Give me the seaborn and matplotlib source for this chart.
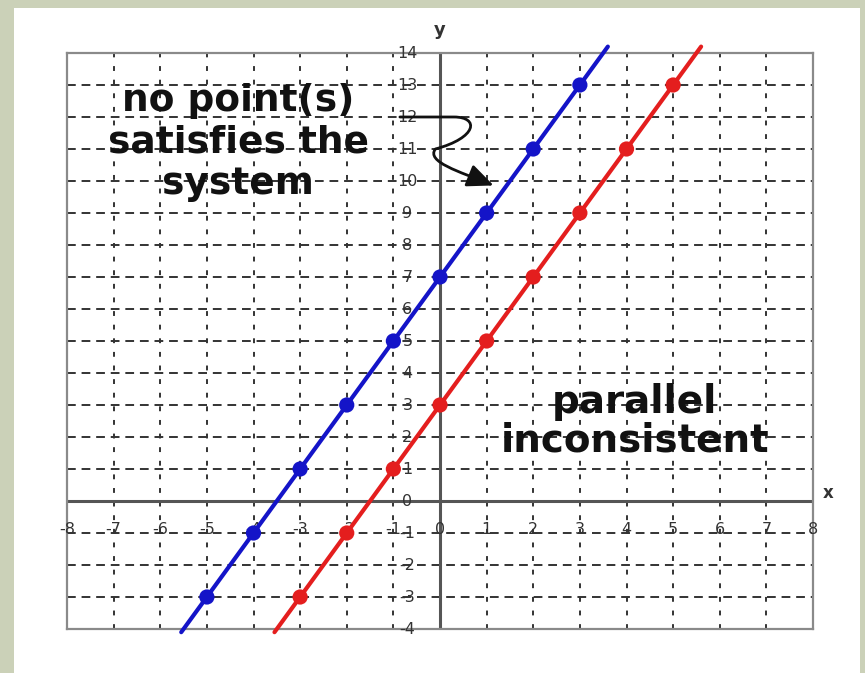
import matplotlib
matplotlib.use("Agg")
import matplotlib.pyplot as plt
import seaborn as sns
import pandas as pd
from matplotlib.path import Path
from matplotlib.patches import FancyArrowPatch, Rectangle

sns.set_theme(style="white")
plt.rcParams['font.family'] = ['DejaVu Sans']

# grid / tick values
x_ticks = list(range(-8, 9))
y_ticks = list(range(-4, 15))

# plotted points of the two equations
blue_x = [-5, -4, -3, -2, -1, 0, 1, 2, 3]
blue_y = [-3, -1, 1, 3, 5, 7, 9, 11, 13]
red_x = [-3, -2, -1, 0, 1, 2, 3, 4, 5]
red_y = [-3, -1, 1, 3, 5, 7, 9, 11, 13]

# y = 2x + 7 and y = 2x + 3
slope = 2
blue_intercept = 7
red_intercept = 3
line_y_span = [-4.1, 14.2]

BLUE = "#1414c8"
RED = "#e41e1e"

fig = plt.figure(figsize=(8.65, 6.73), dpi=100)
fig.patch.set_facecolor("#cbd1b8")
fig.patches.append(Rectangle((14 / 865, 0), (860 - 14) / 865, (673 - 8) / 673,
                             transform=fig.transFigure, facecolor="white",
                             edgecolor="none", zorder=-10))

ax = fig.add_axes([67 / 865, (673 - 629) / 673, 746 / 865, 576 / 673])
ax.set_facecolor("none")
ax.set_xlim(-8, 8)
ax.set_ylim(-4, 14)
ax.set_xticks([])
ax.set_yticks([])
for sp in ax.spines.values():
    sp.set_color("#8a8a8a")
    sp.set_linewidth(1.6)

# dashed grid
for xv in x_ticks[1:-1]:
    ax.axvline(xv, color="#333333", lw=1.4, ls=(0, (2.5, 4.5)), zorder=1)
for yv in y_ticks[1:-1]:
    ax.axhline(yv, color="#333333", lw=1.4, ls=(0, (4.5, 3)), zorder=1)

# coordinate axes
ax.axhline(0, color="#555555", lw=2.2, zorder=2)
ax.axvline(0, color="#555555", lw=2.2, zorder=2)

# tick labels written inside the grid
for xv in x_ticks:
    ax.text(xv, -0.9, str(xv), ha="center", va="center", fontsize=11.5,
            color="#333333", zorder=3)
for yv in y_ticks:
    ax.text(-0.7, yv, str(yv), ha="center", va="center", fontsize=11.5,
            color="#333333", zorder=3)
ax.text(0, 14.72, "y", ha="center", va="center", fontsize=13,
        color="#333333", fontweight="bold")
ax.text(8.33, 0.25, "x", ha="center", va="center", fontsize=12,
        color="#333333", fontweight="bold")

# the two parallel lines
lines = pd.DataFrame({
    "y": line_y_span * 2,
    "eq": ["blue"] * 2 + ["red"] * 2,
})
lines["x"] = [(y - blue_intercept) / slope for y in line_y_span] + \
             [(y - red_intercept) / slope for y in line_y_span]
sns.lineplot(data=lines, x="x", y="y", hue="eq", sort=False,
             palette={"blue": BLUE, "red": RED}, lw=3, legend=False,
             ax=ax, zorder=4, estimator=None)
for ln in ax.lines[-2:]:
    ln.set_clip_on(False)

pts = pd.DataFrame({
    "x": blue_x + red_x,
    "y": blue_y + red_y,
    "eq": ["blue"] * len(blue_x) + ["red"] * len(red_x),
})
sns.scatterplot(data=pts, x="x", y="y", hue="eq",
                palette={"blue": BLUE, "red": RED}, s=120, edgecolor="none",
                legend=False, ax=ax, zorder=5)
ax.set_xlabel("")
ax.set_ylabel("")

# annotations
ax.text(-4.33, 11.2, "no point(s)\nsatisfies the\nsystem", ha="center",
        va="center", fontsize=27, fontweight="bold", color="#111111",
        linespacing=1.2, zorder=6)
ax.text(4.18, 2.5, "parallel\ninconsistent", ha="center", va="center",
        fontsize=28, fontweight="bold", color="#111111",
        linespacing=1.0, zorder=6)

verts = [(-0.86, 12.0), (0.3, 12.0),
         (0.85, 12.0), (0.8, 11.35), (-0.1, 11.0),
         (-0.3, 10.6), (0.4, 10.3), (1.15, 9.86)]
codes = [Path.MOVETO, Path.LINETO,
         Path.CURVE4, Path.CURVE4, Path.CURVE4,
         Path.CURVE4, Path.CURVE4, Path.CURVE4]
arrow = FancyArrowPatch(path=Path(verts, codes),
                        arrowstyle="-|>,head_length=0.8,head_width=0.35",
                        mutation_scale=20, lw=2, color="#111111", zorder=6)
ax.add_patch(arrow)

fig.savefig("out.png", dpi=100)
